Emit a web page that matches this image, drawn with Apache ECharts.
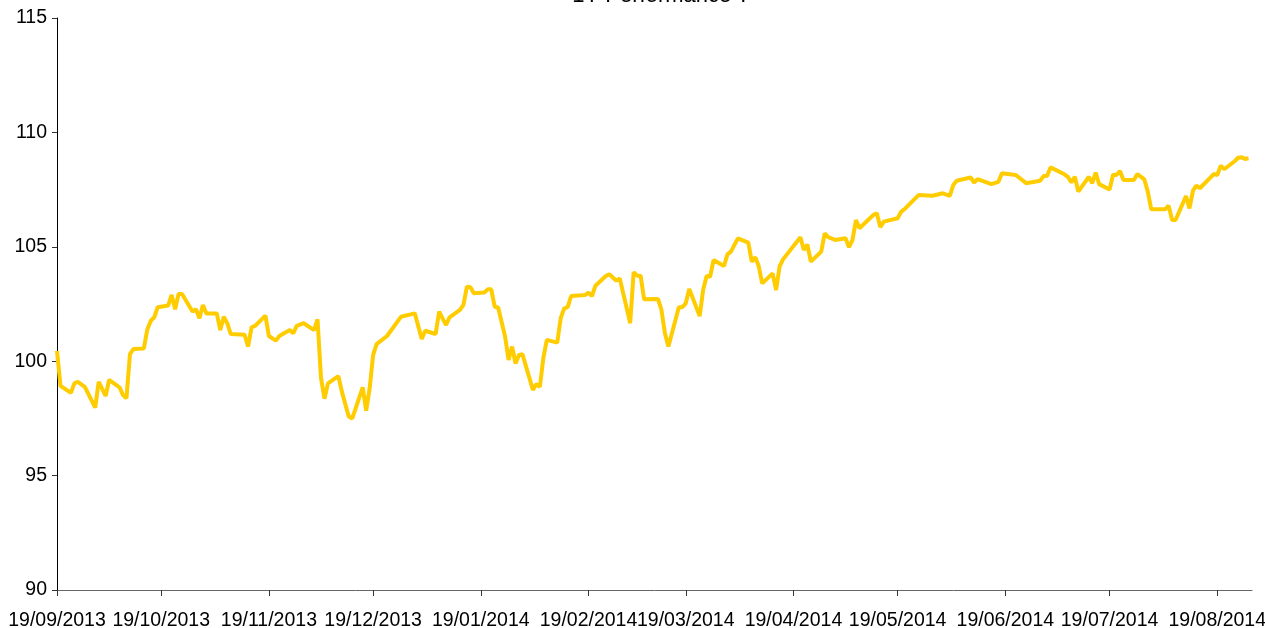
<!DOCTYPE html>
<html><head><meta charset="utf-8">
<script src="https://cdn.jsdelivr.net/npm/echarts@6/dist/echarts.min.js"></script>
<style>html,body{margin:0;padding:0;background:#fff}#c{width:1265px;height:628px}</style>
</head><body><div id="c"></div><script>
const titleText = '1Y Performance ?';
// day offsets counted from 19/09/2013
const dayOffsets = [0,1,4,5,6,8,11,12,14,15,18,19,20,21,22,25,26,27,28,29,32,33,34,35,36,39,40,41,42,43,46,47,48,49,50,54,55,56,57,60,61,63,64,67,68,69,71,74,75,76,77,78,81,82,84,85,88,89,90,91,92,95,99,103,105,106,109,110,112,113,116,117,118,119,120,123,124,125,126,127,129,130,131,132,133,134,137,138,139,140,141,144,145,146,147,148,152,153,154,155,158,159,161,162,165,166,167,168,169,173,174,175,176,179,180,181,182,185,186,187,188,189,192,193,194,196,199,200,201,202,203,206,207,208,209,214,215,216,217,220,221,222,224,227,228,229,230,231,235,236,237,238,242,243,244,248,252,255,257,258,259,263,264,265,269,271,272,276,279,283,284,285,286,290,291,292,293,294,297,298,299,300,303,304,305,306,307,310,311,313,314,315,319,320,321,322,325,326,327,328,329,333,334,335,336,339,340,341,342,343];
const values = [100.45,98.92,98.62,99.03,99.10,98.88,97.97,99.10,98.48,99.18,98.86,98.52,98.38,100.31,100.53,100.56,101.39,101.77,101.92,102.36,102.43,102.90,102.27,102.94,102.94,102.17,102.27,101.88,102.46,102.09,102.09,101.36,101.94,101.66,101.19,101.16,100.64,101.48,101.54,101.99,101.10,100.90,101.10,101.36,101.22,101.54,101.66,101.36,101.83,99.26,98.36,99.03,99.35,98.67,97.57,97.50,98.86,97.84,98.81,100.27,100.75,101.10,101.94,102.09,100.97,101.33,101.19,102.17,101.58,101.92,102.24,102.46,103.26,103.23,102.97,103.00,103.14,103.14,102.38,102.35,101.07,100.05,100.64,99.90,100.27,100.30,98.74,99.00,98.88,100.13,100.93,100.81,101.88,102.31,102.36,102.85,102.89,103.00,102.85,103.30,103.72,103.80,103.52,103.62,101.66,103.89,103.74,103.74,102.71,102.72,102.24,101.22,100.64,102.36,102.36,102.53,103.16,101.97,103.11,103.72,103.69,104.42,104.16,104.67,104.79,105.37,105.18,104.35,104.54,104.16,103.40,103.84,103.11,104.13,104.45,105.42,104.86,105.10,104.35,104.79,105.59,105.42,105.30,105.37,104.98,105.30,106.17,105.81,106.39,106.47,105.86,106.10,106.25,106.54,106.65,107.26,107.23,107.34,107.23,107.70,107.89,108.03,107.81,107.96,107.74,107.84,108.21,108.14,107.78,107.89,108.09,108.09,108.47,108.17,108.06,107.81,108.06,107.41,108.06,107.78,108.24,107.74,107.50,108.15,108.14,108.31,107.92,107.92,108.18,107.95,107.41,106.64,106.64,106.80,106.17,106.17,107.22,106.68,107.45,107.67,107.56,108.18,108.14,108.55,108.39,108.74,108.89,108.91,108.84,108.87];
const tickLabels = ['19/09/2013','19/10/2013','19/11/2013','19/12/2013','19/01/2014','19/02/2014','19/03/2014','19/04/2014','19/05/2014','19/06/2014','19/07/2014','19/08/2014'];
const endDate = '29/08/2014';
const yMin = 90, yMax = 115, yStep = 5;

function parseDMY(s){ const p = s.split('/'); return new Date(+p[2], +p[1]-1, +p[0]).getTime(); }
function pad(n){ return (n<10?'0':'')+n; }
function fmt(v){ const d = new Date(v); return pad(d.getDate())+'/'+pad(d.getMonth()+1)+'/'+d.getFullYear(); }
const start = new Date(parseDMY(tickLabels[0]));
const seriesData = dayOffsets.map((off,i)=>[new Date(start.getFullYear(), start.getMonth(), start.getDate()+off).getTime(), values[i]]);
const tickValues = tickLabels.map(parseDMY);
const FONT = 'Liberation Sans';

const chart = echarts.init(document.getElementById('c'), null, {renderer:'canvas'});
chart.setOption({
  animation:false,
  backgroundColor:'#fff',
  title:{text:titleText, left:656, textAlign:'center', top:-20,
    textStyle:{fontSize:22, fontWeight:'normal', color:'#000', fontFamily:FONT}},
  grid:{left:57, right:13, top:18, bottom:38, containLabel:false, outerBoundsMode:'none'},
  xAxis:{type:'value', min:tickValues[0], max:parseDMY(endDate), scale:true,
    axisLine:{show:true, lineStyle:{color:'#666', width:1}},
    axisTick:{show:true, length:6, inside:false, customValues:tickValues, lineStyle:{color:'#333'}},
    axisLabel:{customValues:tickValues, formatter:fmt, margin:21, color:'#000', fontSize:19.5, fontFamily:FONT, hideOverlap:false, showMinLabel:true, showMaxLabel:true},
    splitLine:{show:false}},
  yAxis:{type:'value', min:yMin, max:yMax, interval:yStep,
    axisLine:{show:true, lineStyle:{color:'#000', width:1}},
    axisTick:{show:true, length:5, inside:false, lineStyle:{color:'#333'}},
    axisLabel:{margin:10, color:'#000', fontSize:19.5, fontFamily:FONT},
    splitLine:{show:false}},
  series:[{type:'line', data:seriesData, showSymbol:false, symbol:'none',
    lineStyle:{color:'#FFCC00', width:4}, itemStyle:{color:'#FFCC00'}}]
});
</script></body></html>
